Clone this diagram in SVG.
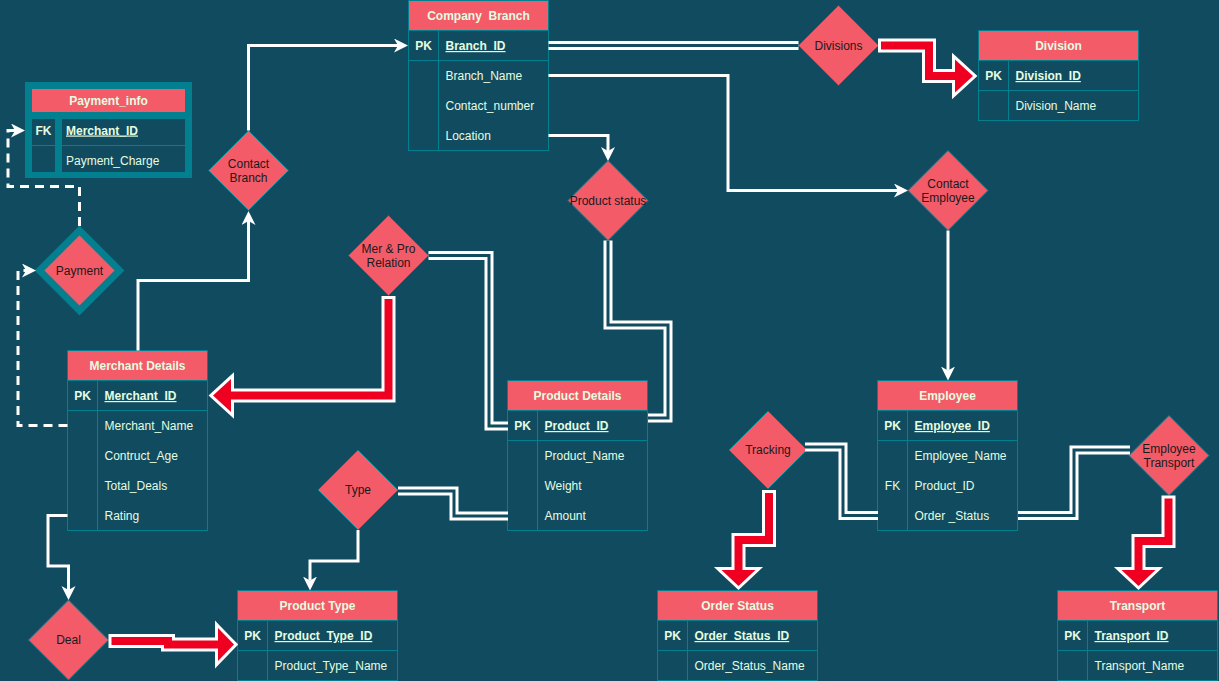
<svg xmlns="http://www.w3.org/2000/svg" width="1219" height="681" viewBox="0 0 1219 681">
<defs>
<style>
.t{font-family:"Liberation Sans",Arial,sans-serif;font-size:12px;fill:#E4FDE1}
.b{font-weight:bold}
.u{text-decoration:underline}
.c{text-anchor:middle}
.hdr{fill:#F45B69;stroke:#028090;stroke-width:1}
.body{fill:#114B5F;stroke:#028090;stroke-width:1}
.sep{stroke:#028090;stroke-width:1;fill:none}
.dia{fill:#F45B69;stroke:#028090;stroke-width:1}
.dt{font-family:"Liberation Sans",Arial,sans-serif;font-size:12px;fill:#1A1A1A;text-anchor:middle}
.ln{fill:none;stroke:#FFFFFF;stroke-width:3;marker-end:url(#arr)}
.dash{fill:none;stroke:#FFFFFF;stroke-width:3;stroke-dasharray:9 6;marker-end:url(#arr)}
.dw{fill:none;stroke:#FFFFFF;stroke-width:9}
.dd{fill:none;stroke:#114B5F;stroke-width:3}
.fw{fill:none;stroke:#FFFFFF;stroke-width:14;stroke-linejoin:miter}
.fr{fill:none;stroke:#F00020;stroke-width:8;stroke-linejoin:miter}
.hw{fill:#FFFFFF;stroke:#FFFFFF;stroke-width:6;stroke-linejoin:miter;stroke-miterlimit:6}
.hr{fill:#F00020}
</style>
<marker id="arr" markerUnits="userSpaceOnUse" markerWidth="16" markerHeight="16" refX="4" refY="7" orient="auto"><path d="M0,0 L14,7 L0,14 L4,7 Z" fill="#FFFFFF"/></marker>
</defs>
<rect x="0" y="0" width="1219" height="681" fill="#114B5F"/>

<g id="company-branch">
<rect class="body" x="408.5" y="0.5" width="140" height="150"/>
<rect class="hdr" x="408.5" y="0.5" width="140" height="30"/>
<line class="sep" x1="408.5" y1="60.5" x2="548.5" y2="60.5"/>
<line class="sep" x1="438.5" y1="30.5" x2="438.5" y2="150.5"/>
<text class="t b c" x="478.5" y="20" xml:space="preserve">Company  Branch</text>
<text class="t b c" x="423.5" y="50">PK</text>
<text class="t b u" x="445.5" y="50">Branch_ID</text>
<text class="t" x="445.5" y="80">Branch_Name</text>
<text class="t" x="445.5" y="110">Contact_number</text>
<text class="t" x="445.5" y="140">Location</text>
</g>

<g id="division">
<rect class="body" x="978.5" y="30.5" width="160" height="90"/>
<rect class="hdr" x="978.5" y="30.5" width="160" height="30"/>
<line class="sep" x1="978.5" y1="90.5" x2="1138.5" y2="90.5"/>
<line class="sep" x1="1008.5" y1="60.5" x2="1008.5" y2="120.5"/>
<text class="t b c" x="1058.5" y="50">Division</text>
<text class="t b c" x="993.5" y="80">PK</text>
<text class="t b u" x="1015.5" y="80">Division_ID</text>
<text class="t" x="1015.5" y="110">Division_Name</text>
</g>

<g id="payment-info">
<rect x="25" y="82" width="167" height="96" fill="#028090"/>
<rect x="32" y="89" width="153" height="23" fill="#F45B69"/>
<rect x="32" y="119" width="23" height="26" fill="#114B5F"/>
<rect x="62" y="119" width="123" height="26" fill="#114B5F"/>
<rect x="32" y="146" width="23" height="26" fill="#114B5F"/>
<rect x="62" y="146" width="123" height="26" fill="#114B5F"/>
<text class="t b c" x="108.5" y="105">Payment_info</text>
<text class="t b c" x="43.5" y="134.5">FK</text>
<text class="t b u" x="66" y="134.5">Merchant_ID</text>
<text class="t" x="66" y="164.5">Payment_Charge</text>
</g>

<g id="merchant-details">
<rect class="body" x="67.5" y="350.5" width="140" height="180"/>
<rect class="hdr" x="67.5" y="350.5" width="140" height="30"/>
<line class="sep" x1="67.5" y1="410.5" x2="207.5" y2="410.5"/>
<line class="sep" x1="97.5" y1="380.5" x2="97.5" y2="530.5"/>
<text class="t b c" x="137.5" y="370">Merchant Details</text>
<text class="t b c" x="82.5" y="400">PK</text>
<text class="t b u" x="104.5" y="400">Merchant_ID</text>
<text class="t" x="104.5" y="430">Merchant_Name</text>
<text class="t" x="104.5" y="460">Contruct_Age</text>
<text class="t" x="104.5" y="490">Total_Deals</text>
<text class="t" x="104.5" y="520">Rating</text>
</g>

<g id="product-details">
<rect class="body" x="507.5" y="380.5" width="140" height="150"/>
<rect class="hdr" x="507.5" y="380.5" width="140" height="30"/>
<line class="sep" x1="507.5" y1="440.5" x2="647.5" y2="440.5"/>
<line class="sep" x1="537.5" y1="410.5" x2="537.5" y2="530.5"/>
<text class="t b c" x="577.5" y="400">Product Details</text>
<text class="t b c" x="522.5" y="430">PK</text>
<text class="t b u" x="544.5" y="430">Product_ID</text>
<text class="t" x="544.5" y="460">Product_Name</text>
<text class="t" x="544.5" y="490">Weight</text>
<text class="t" x="544.5" y="520">Amount</text>
</g>

<g id="employee">
<rect class="body" x="877.5" y="380.5" width="140" height="150"/>
<rect class="hdr" x="877.5" y="380.5" width="140" height="30"/>
<line class="sep" x1="877.5" y1="440.5" x2="1017.5" y2="440.5"/>
<line class="sep" x1="907.5" y1="410.5" x2="907.5" y2="530.5"/>
<text class="t b c" x="947.5" y="400">Employee</text>
<text class="t b c" x="892.5" y="430">PK</text>
<text class="t b u" x="914.5" y="430">Employee_ID</text>
<text class="t" x="914.5" y="460">Employee_Name</text>
<text class="t c" x="892.5" y="490">FK</text>
<text class="t" x="914.5" y="490">Product_ID</text>
<text class="t" x="914.5" y="520" xml:space="preserve">Order _Status</text>
</g>

<g id="product-type">
<rect class="body" x="237.5" y="590.5" width="160" height="90"/>
<rect class="hdr" x="237.5" y="590.5" width="160" height="30"/>
<line class="sep" x1="237.5" y1="650.5" x2="397.5" y2="650.5"/>
<line class="sep" x1="267.5" y1="620.5" x2="267.5" y2="680.5"/>
<text class="t b c" x="317.5" y="610">Product Type</text>
<text class="t b c" x="252.5" y="640">PK</text>
<text class="t b u" x="274.5" y="640">Product_Type_ID</text>
<text class="t" x="274.5" y="670">Product_Type_Name</text>
</g>

<g id="order-status">
<rect class="body" x="657.5" y="590.5" width="160" height="90"/>
<rect class="hdr" x="657.5" y="590.5" width="160" height="30"/>
<line class="sep" x1="657.5" y1="650.5" x2="817.5" y2="650.5"/>
<line class="sep" x1="687.5" y1="620.5" x2="687.5" y2="680.5"/>
<text class="t b c" x="737.5" y="610">Order Status</text>
<text class="t b c" x="672.5" y="640">PK</text>
<text class="t b u" x="694.5" y="640">Order_Status_ID</text>
<text class="t" x="694.5" y="670">Order_Status_Name</text>
</g>

<g id="transport">
<rect class="body" x="1057.5" y="590.5" width="160" height="90"/>
<rect class="hdr" x="1057.5" y="590.5" width="160" height="30"/>
<line class="sep" x1="1057.5" y1="650.5" x2="1217.5" y2="650.5"/>
<line class="sep" x1="1087.5" y1="620.5" x2="1087.5" y2="680.5"/>
<text class="t b c" x="1137.5" y="610">Transport</text>
<text class="t b c" x="1072.5" y="640">PK</text>
<text class="t b u" x="1094.5" y="640">Transport_ID</text>
<text class="t" x="1094.5" y="670">Transport_Name</text>
</g>

<g id="divisions">
<polygon class="dia" points="838.5,5.5 878.5,45.5 838.5,85.5 798.5,45.5"/>
<text class="dt" x="838.5" y="49.5">Divisions</text>
</g>
<g id="contact-branch">
<polygon class="dia" points="248.5,130.5 288.5,170.5 248.5,210.5 208.5,170.5"/>
<text class="dt" x="248.5" y="167.5">Contact</text>
<text class="dt" x="248.5" y="181.5">Branch</text>
</g>
<g id="mer-pro-relation">
<polygon class="dia" points="388.5,215.5 428.5,255.5 388.5,295.5 348.5,255.5"/>
<text class="dt" x="388.5" y="252.5">Mer &amp; Pro</text>
<text class="dt" x="388.5" y="266.5">Relation</text>
</g>
<g id="product-status">
<polygon class="dia" points="608,160.5 648,200.5 608,240.5 568,200.5"/>
<text class="dt" x="608" y="204.5">Product status</text>
</g>
<g id="contact-employee">
<polygon class="dia" points="948,150.5 988,190.5 948,230.5 908,190.5"/>
<text class="dt" x="948" y="187.5">Contact</text>
<text class="dt" x="948" y="201.5">Employee</text>
</g>
<g id="payment">
<polygon points="79.5,230.5 119.5,270.5 79.5,310.5 39.5,270.5" fill="#F45B69" stroke="#028090" stroke-width="7"/>
<text class="dt" x="79.5" y="275">Payment</text>
</g>
<g id="tracking">
<polygon class="dia" points="768,411 807,450 768,489 729,450"/>
<text class="dt" x="768" y="454">Tracking</text>
</g>
<g id="employee-transport">
<polygon class="dia" points="1169,415.5 1209,455.5 1169,495.5 1129,455.5"/>
<text class="dt" x="1169" y="453">Employee</text>
<text class="dt" x="1169" y="467">Transport</text>
</g>
<g id="type">
<polygon class="dia" points="358,450 398,490 358,530 318,490"/>
<text class="dt" x="358" y="494">Type</text>
</g>
<g id="deal">
<polygon class="dia" points="68.5,600 108.5,640 68.5,680 28.5,640"/>
<text class="dt" x="68.5" y="644">Deal</text>
</g>

<g id="connectors">
<!-- single white arrows -->
<path class="ln" d="M138,350.5 V280.5 H248.5 V221"/>
<path class="ln" d="M248.5,130.5 V45.5 H398"/>
<path class="ln" d="M548.5,75.5 H728 V190.5 H898"/>
<path class="ln" d="M548.5,135.5 H608 V151"/>
<path class="ln" d="M948,230.5 V370.5"/>
<path class="ln" d="M358,530 V561 H310 V580.5"/>
<path class="ln" d="M67.5,515.5 H48 V566 H68.5 V590"/>
<!-- dashed -->
<path class="dash" d="M67.5,425.5 H18 V270.5 H26"/>
<path class="dash" d="M79.5,226 V186.5 H8 V130.5 H15"/>
<!-- double lines -->
<g>
<path class="dw" d="M548.5,45.5 H798.5"/><path class="dd" d="M548.5,45.5 H798.5"/>
<path class="dw" d="M608,240.5 V325 H668 V418 H648"/><path class="dd" d="M608,240.5 V325 H668 V418 H648"/>
<path class="dw" d="M428.5,255.5 H489 V426 H508"/><path class="dd" d="M428.5,255.5 H489 V426 H508"/>
<path class="dw" d="M398,491 H454 V516 H508"/><path class="dd" d="M398,491 H454 V516 H508"/>
<path class="dw" d="M805,447 H843 V515.5 H878"/><path class="dd" d="M805,447 H843 V515.5 H878"/>
<path class="dw" d="M1018,515.5 H1074 V450 H1130"/><path class="dd" d="M1018,515.5 H1074 V450 H1130"/>
</g>
<!-- red flex arrows -->
<g>
<path class="fw" d="M878,45.5 H929 V76 H958"/>
<polygon class="hw" points="955,59.5 973,76 955,92.5"/>
<path class="fr" d="M881,45.5 H929 V76 H958"/>
<polygon class="hr" points="955,59.5 973,76 955,92.5"/>
</g>
<g>
<path class="fw" d="M388.5,296 V395.5 H229"/>
<polygon class="hw" points="231,379 213,395.5 231,412"/>
<path class="fr" d="M388.5,299 V395.5 H229"/>
<polygon class="hr" points="231,379 213,395.5 231,412"/>
</g>
<g>
<path class="fw" d="M108.5,641 H168 V644.5 H220"/>
<polygon class="hw" points="218,628 234,644.5 218,661"/>
<path class="fr" d="M111.5,641 H168 V644.5 H220"/>
<polygon class="hr" points="218,628 234,644.5 218,661"/>
</g>
<g>
<path class="fw" d="M769,490 V540 H738.5 V572"/>
<polygon class="hw" points="721.5,570 738.5,586 755.5,570"/>
<path class="fr" d="M769,493 V540 H738.5 V572"/>
<polygon class="hr" points="721.5,570 738.5,586 755.5,570"/>
</g>
<g>
<path class="fw" d="M1168.5,495.5 V541 H1138.5 V572"/>
<polygon class="hw" points="1121.5,570 1138.5,586 1155.5,570"/>
<path class="fr" d="M1168.5,498.5 V541 H1138.5 V572"/>
<polygon class="hr" points="1121.5,570 1138.5,586 1155.5,570"/>
</g>
</g>
</svg>
